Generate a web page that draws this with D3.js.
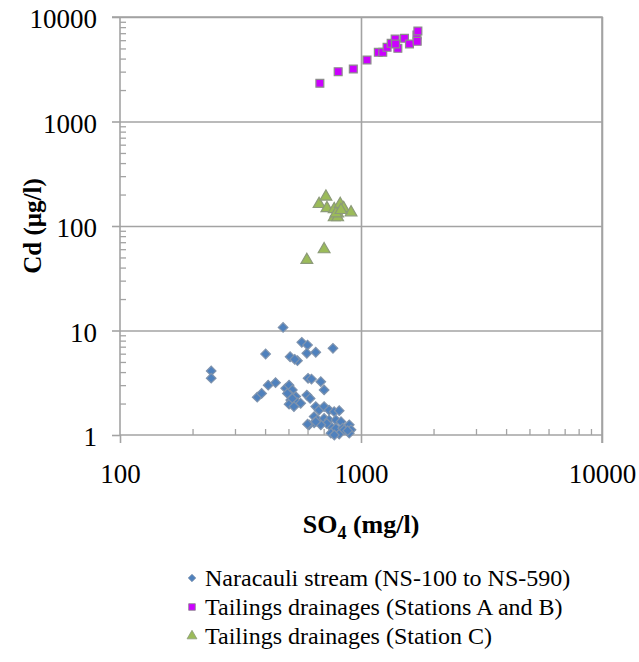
<!DOCTYPE html>
<html>
<head>
<meta charset="utf-8">
<script src="https://cdn.jsdelivr.net/npm/d3@7"></script>
<style>
  html, body { margin: 0; padding: 0; background: #fff; }
  svg { display: block; }
  svg text { font-family: "Liberation Serif", "DejaVu Serif", serif; fill: #000; }
</style>
</head>
<body>
<svg id="chart" width="639" height="662"></svg>
<script>
// Naracauli stream samples (SO4 mg/l, Cd µg/l)
const streamSO4 = [239, 239, 475, 402, 568, 600, 596, 649, 765, 508, 545, 531,
  603, 623, 681, 703, 371, 387, 412, 442, 487, 503, 519, 508, 536, 511, 545, 503,
  495, 596, 615, 649, 670, 703, 737, 774, 812, 639, 660, 703, 737, 787, 826, 609,
  639, 750, 787, 839, 894, 909, 750, 812, 894, 851, 721, 681, 519, 562, 527, 600,
  649, 775, 880];
const streamCd = [4.1, 3.5, 10.7, 5.96, 7.7, 7.26, 6.05, 6.19, 6.76, 5.61, 5.14, 5.3,
  3.49, 3.43, 3.24, 2.7, 2.3, 2.5, 3.0, 3.17, 2.8, 3.0, 2.7, 2.41, 2.33, 2.16, 2.04, 1.97,
  2.5, 2.41, 2.24, 1.87, 1.73, 1.87, 1.73, 1.67, 1.71, 1.5, 1.39, 1.44, 1.39, 1.39, 1.34, 1.25,
  1.31, 1.2, 1.16, 1.16, 1.25, 1.12, 1.04, 1.02, 1.04, 1.12, 1.29, 1.25, 2.24, 2.01, 1.87, 1.27,
  1.34, 1.0, 1.1];

// Tailings drainages, stations A and B
const tailingsABSO4 = [675, 804, 929, 1059, 1180, 1231, 1283, 1334, 1386, 1422, 1391,
  1515, 1589, 1706, 1722, 1711];
const tailingsABCd = [2321, 2998, 3179, 3880, 4592, 4592, 5130, 5600, 6153, 5014, 5520,
  6250, 5520, 6730, 7350, 5850];

// Tailings drainages, station C
const tailingsCSO4 = [670, 715, 722, 774, 800, 820, 847, 909, 774, 800, 787, 826, 703, 596];
const tailingsCCd = [162, 191, 148, 145, 132, 162, 148, 135, 121, 121, 132, 142, 59.8, 47.3];

const xTicks = [100, 1000, 10000];
const yTicks = [1, 10, 100, 1000, 10000];

const seriesNames = [
  "Naracauli stream (NS-100 to NS-590)",
  "Tailings drainages (Stations A and B)",
  "Tailings drainages (Station C)"
];

const FONT = "'Liberation Serif', 'DejaVu Serif', serif";
const svg = d3.select("#chart").attr("font-family", FONT);
const plotLeft = 120, plotRight = 602, plotTop = 17, plotBottom = 435;
const gridColor = "#a3a3a3";

const x = d3.scaleLog().domain([100, 10000]).range([plotLeft, plotRight]);
const y = d3.scaleLog().domain([1, 10000]).range([plotBottom, plotTop]);

// 2..9 multiples of each decade
function minorTicks(lo, hi) {
  const out = [];
  for (let d = lo; d < hi; d *= 10) for (let k = 2; k <= 9; k++) out.push(d * k);
  return out;
}

// major grid lines
svg.append("g")
  .attr("transform", `translate(${plotLeft},0)`)
  .call(d3.axisLeft(y).tickValues(yTicks.slice(1)).tickSize(-(plotRight - plotLeft)).tickFormat(""))
  .call(g => g.select(".domain").remove())
  .call(g => g.selectAll("line").attr("stroke", gridColor).attr("stroke-width", 1.6));
svg.append("g")
  .attr("transform", `translate(0,${plotBottom})`)
  .call(d3.axisBottom(x).tickValues(xTicks.slice(1)).tickSize(-(plotBottom - plotTop)).tickFormat(""))
  .call(g => g.select(".domain").remove())
  .call(g => g.selectAll("line").attr("stroke", gridColor).attr("stroke-width", 1.6));

// y axis: major ticks outward, minor ticks inward
const yAxis = svg.append("g")
  .attr("transform", `translate(${plotLeft},0)`)
  .call(d3.axisLeft(y).tickValues(yTicks).tickSize(8).tickPadding(15)
    .tickFormat(d3.format("d")))
  .attr("font-family", FONT);
yAxis.select(".domain").attr("stroke", gridColor).attr("stroke-width", 1.6)
  .attr("d", `M0,${plotTop}V${plotBottom}`);
yAxis.selectAll("line").attr("stroke", gridColor).attr("stroke-width", 1.6);
yAxis.selectAll("text").attr("font-size", 27).attr("dy", "0.4em");

svg.append("g")
  .attr("transform", `translate(${plotLeft},0)`)
  .call(d3.axisLeft(y).tickValues(minorTicks(1, 10000)).tickSize(-6).tickFormat(""))
  .call(g => g.select(".domain").remove())
  .call(g => g.selectAll("line").attr("stroke", gridColor).attr("stroke-width", 1.3));

// x axis: major ticks outward, minor ticks inward
const xAxis = svg.append("g")
  .attr("transform", `translate(0,${plotBottom})`)
  .call(d3.axisBottom(x).tickValues(xTicks).tickSize(8).tickPadding(21)
    .tickFormat(d3.format("d")))
  .attr("font-family", FONT);
xAxis.select(".domain").attr("stroke", gridColor).attr("stroke-width", 1.6)
  .attr("d", `M${plotLeft},0H${plotRight}`);
xAxis.selectAll("line").attr("stroke", gridColor).attr("stroke-width", 1.6);
xAxis.selectAll("text").attr("font-size", 27);

svg.append("g")
  .attr("transform", `translate(0,${plotBottom})`)
  .call(d3.axisBottom(x).tickValues(minorTicks(100, 10000)).tickSize(-6).tickFormat(""))
  .call(g => g.select(".domain").remove())
  .call(g => g.selectAll("line").attr("stroke", gridColor).attr("stroke-width", 1.3));

// frame: top and right edges
svg.append("path")
  .attr("d", `M${plotLeft - 8},${plotTop}H${plotRight}V${plotBottom + 8}`)
  .attr("fill", "none").attr("stroke", gridColor).attr("stroke-width", 1.6);

// axis titles
svg.append("text")
  .attr("transform", `translate(41,${(plotTop + plotBottom) / 2}) rotate(-90)`)
  .attr("text-anchor", "middle")
  .attr("font-size", 25).attr("font-weight", "bold")
  .text("Cd (µg/l)");

const xt = svg.append("text")
  .attr("x", (plotLeft + plotRight) / 2).attr("y", 533)
  .attr("text-anchor", "middle")
  .attr("font-size", 26).attr("font-weight", "bold");
xt.append("tspan").text("SO");
xt.append("tspan").attr("font-size", 18).attr("dy", 6).text("4");
xt.append("tspan").attr("dy", -6).text(" (mg/l)");

// markers
const diamond = d3.symbol().type(d3.symbolSquare).size(46);
const square = d3.symbol().type(d3.symbolSquare).size(62);
const triangle = d3.symbol().type(d3.symbolTriangle).size(60);

const series = [
  { xs: streamSO4, ys: streamCd, sym: diamond, rot: 45, fill: "#4f81bd", stroke: "#7f93ad" },
  { xs: tailingsABSO4, ys: tailingsABCd, sym: square, rot: 0, fill: "#cc00ff", stroke: "#8c8c8c" },
  { xs: tailingsCSO4, ys: tailingsCCd, sym: triangle, rot: 0, fill: "#9bbb59", stroke: "#8c9a7a" }
];

series.forEach(s => {
  svg.append("g").selectAll("path")
    .data(s.xs.map((v, i) => [v, s.ys[i]]))
    .join("path")
    .attr("d", s.sym)
    .attr("transform", d => `translate(${x(d[0])},${y(d[1])}) rotate(${s.rot})`)
    .attr("fill", s.fill)
    .attr("stroke", s.stroke)
    .attr("stroke-width", 1.2);
});

// legend
const legend = svg.append("g");
const legendSyms = [
  d3.symbol().type(d3.symbolSquare).size(28),
  d3.symbol().type(d3.symbolSquare).size(44),
  d3.symbol().type(d3.symbolTriangle).size(42)
];
seriesNames.forEach((name, i) => {
  const yy = 578 + i * 29;
  legend.append("path")
    .attr("d", legendSyms[i])
    .attr("transform", `translate(192,${yy}) rotate(${series[i].rot})`)
    .attr("fill", series[i].fill)
    .attr("stroke", series[i].stroke)
    .attr("stroke-width", 0.8);
  legend.append("text")
    .attr("x", 205).attr("y", yy + 8)
    .attr("font-size", 24)
    .text(name);
});
</script>
</body>
</html>
